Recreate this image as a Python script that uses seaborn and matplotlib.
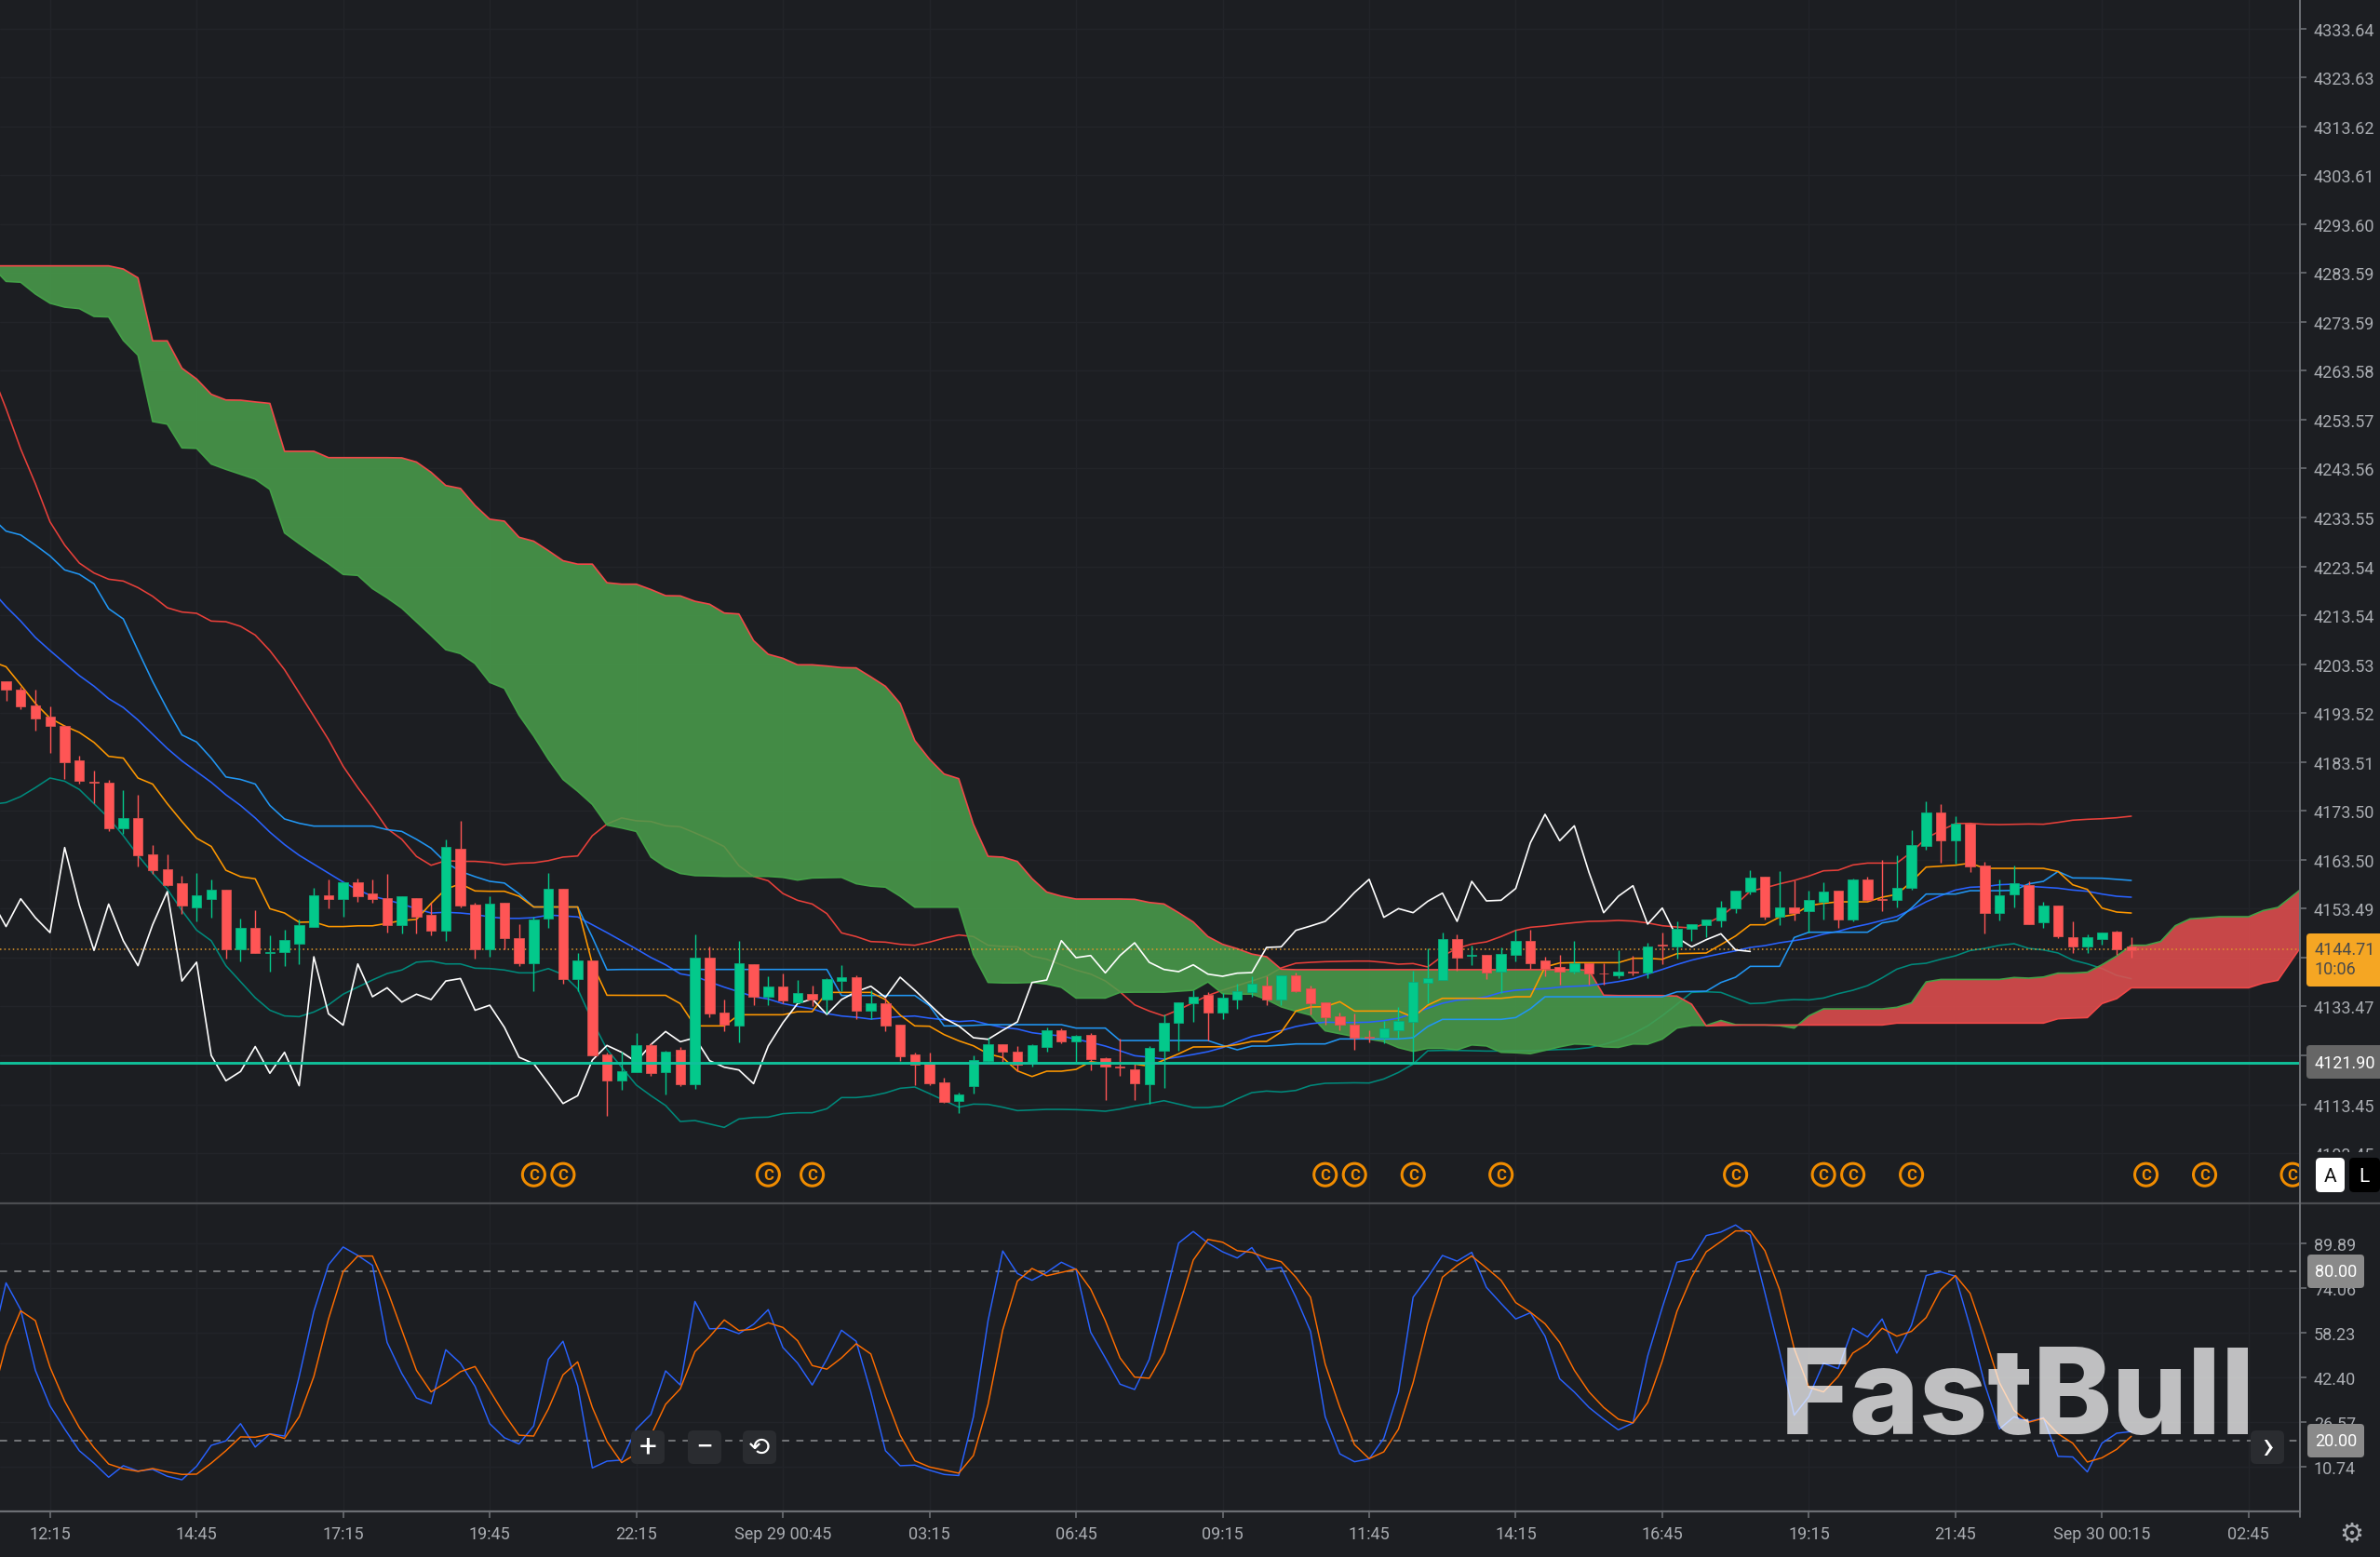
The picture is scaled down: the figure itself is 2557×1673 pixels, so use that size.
import numpy as np
import matplotlib
matplotlib.use("Agg")
import matplotlib.pyplot as plt
from matplotlib.patches import FancyBboxPatch, Rectangle
import seaborn as sns

# prices below are stored minus 4000, one row = 10 candles
BASE = 4000

opens = [
    200.1, 198.4, 195.0, 192.8, 190.9, 183.9, 179.5, 179.2, 169.9, 172.1,
    164.7, 161.5, 158.7, 153.8, 155.5, 157.3, 145.1, 149.5, 144.5, 144.7,
    146.4, 149.8, 156.3, 155.5, 158.9, 156.7, 155.7, 150.2, 155.7, 152.2,
    149.0, 165.8, 154.4, 145.2, 154.7, 147.5, 142.4, 151.4, 157.5, 139.0,
    142.9, 123.6, 118.4, 120.1, 125.5, 120.1, 124.7, 117.6, 143.5, 132.3,
    129.6, 142.1, 135.5, 137.5, 134.4, 136.1, 134.9, 138.7, 139.5, 132.7,
    134.1, 129.8, 123.6, 121.8, 118.0, 114.2, 117.2, 122.3, 125.8, 124.3,
    121.9, 125.2, 128.7, 126.3, 127.6, 122.9, 121.2, 120.7, 117.6, 124.4,
    130.1, 134.1, 135.8, 132.2, 134.9, 136.4, 137.8, 134.9, 139.8, 137.2,
    134.4, 131.5, 129.7, 127.3, 127.0, 128.7, 130.4, 138.4, 138.9, 147.2,
    143.9, 144.1, 140.7, 144.1, 146.9, 142.9, 141.5, 140.7, 142.4, 140.3,
    139.8, 140.7, 140.5, 146.1, 145.8, 149.3, 150.2, 151.0, 153.5, 157.0,
    160.1, 151.8, 153.8, 153.0, 154.9, 157.2, 151.3, 159.5, 155.5, 155.3,
    157.8, 166.4, 173.2, 167.5, 170.9, 162.4, 152.7, 156.4, 158.4, 150.7,
    154.1, 147.6, 145.8, 147.2, 148.8, 145.8,
]
closes = [
    198.4, 194.8, 192.5, 190.8, 183.5, 179.6, 179.3, 169.9, 172.1, 164.4,
    161.3, 158.4, 154.1, 156.2, 157.3, 145.1, 149.5, 144.5, 144.7, 147.0,
    150.1, 156.3, 155.4, 158.9, 156.1, 155.5, 150.2, 156.1, 151.9, 149.0,
    166.1, 154.1, 145.2, 154.6, 147.5, 142.4, 151.2, 157.5, 139.0, 142.9,
    123.4, 118.4, 120.3, 125.5, 119.8, 124.3, 117.6, 143.5, 132.0, 129.7,
    142.4, 135.5, 137.5, 134.7, 136.3, 134.9, 139.0, 139.5, 132.7, 134.1,
    129.6, 123.3, 121.6, 117.8, 113.9, 115.5, 122.6, 125.8, 124.2, 121.6,
    125.5, 128.7, 126.4, 127.5, 122.7, 121.2, 121.0, 117.8, 124.9, 130.1,
    134.4, 135.5, 132.2, 135.2, 136.7, 138.1, 134.9, 139.8, 136.7, 134.1,
    131.3, 129.8, 127.0, 127.1, 128.9, 130.6, 138.6, 139.3, 147.2, 143.5,
    144.1, 140.5, 144.3, 146.9, 142.4, 141.2, 140.6, 142.4, 140.2, 140.2,
    140.7, 140.5, 145.8, 145.9, 149.3, 150.4, 151.2, 153.8, 157.2, 159.8,
    151.8, 153.8, 152.7, 155.2, 156.9, 151.3, 159.5, 155.2, 155.3, 157.8,
    166.6, 173.2, 167.5, 170.9, 162.1, 152.7, 156.3, 158.7, 150.4, 154.1,
    147.9, 145.8, 147.6, 148.7, 145.2, 144.9,
]
highs = [
    200.1, 198.9, 198.3, 194.8, 191.0, 184.8, 181.7, 179.9, 177.7, 176.8,
    166.6, 164.6, 160.2, 160.8, 159.4, 157.3, 151.4, 153.1, 148.0, 149.1,
    151.3, 157.7, 159.4, 158.9, 159.7, 159.4, 160.6, 156.1, 155.7, 154.7,
    167.7, 171.5, 154.7, 156.0, 154.7, 150.3, 151.8, 160.8, 157.5, 144.5,
    142.9, 124.1, 124.2, 128.0, 125.9, 124.5, 125.2, 148.2, 145.7, 134.8,
    146.8, 142.1, 139.7, 140.3, 138.9, 137.7, 139.3, 141.9, 139.8, 136.8,
    135.3, 129.8, 124.0, 124.0, 118.8, 115.8, 123.4, 127.1, 125.8, 125.4,
    125.7, 129.1, 128.9, 127.7, 128.0, 123.1, 126.8, 122.2, 125.4, 131.9,
    134.4, 136.8, 136.5, 136.2, 138.2, 139.7, 139.7, 139.8, 140.5, 137.7,
    134.4, 132.2, 132.0, 128.7, 130.6, 133.3, 140.8, 145.4, 148.6, 148.2,
    146.0, 144.1, 145.5, 149.2, 149.2, 143.6, 144.0, 146.8, 142.4, 142.4,
    145.0, 143.9, 146.5, 148.7, 150.9, 150.4, 151.2, 155.1, 157.2, 161.4,
    160.1, 161.1, 159.2, 157.1, 158.8, 157.2, 159.7, 160.0, 163.5, 164.5,
    169.5, 175.4, 174.8, 172.5, 171.0, 163.1, 159.5, 162.3, 159.1, 154.9,
    154.1, 150.8, 148.2, 148.7, 149.0, 147.7,
]
lows = [
    196.1, 194.3, 189.9, 185.3, 180.1, 179.0, 175.0, 169.3, 168.8, 162.2,
    160.6, 158.2, 152.5, 150.9, 151.6, 143.3, 142.7, 144.4, 140.7, 141.8,
    142.2, 149.8, 153.5, 151.9, 154.8, 154.7, 148.7, 148.5, 148.5, 148.0,
    146.8, 153.8, 143.3, 143.6, 145.2, 141.8, 136.7, 149.5, 138.2, 136.7,
    123.4, 111.0, 116.5, 120.0, 119.3, 115.5, 117.2, 116.7, 131.3, 128.5,
    126.2, 133.8, 133.8, 134.2, 134.2, 133.6, 132.0, 136.7, 130.9, 130.9,
    128.5, 122.4, 117.3, 117.3, 113.7, 111.6, 115.6, 122.2, 121.7, 120.3,
    121.2, 124.2, 125.9, 122.2, 120.5, 114.4, 119.3, 114.4, 113.6, 116.8,
    124.4, 130.4, 126.5, 130.8, 133.0, 135.5, 133.8, 133.8, 136.5, 131.9,
    129.8, 128.7, 124.7, 126.2, 125.9, 126.9, 122.2, 134.1, 138.9, 140.8,
    141.9, 139.0, 136.2, 142.7, 141.1, 139.7, 137.9, 140.2, 137.9, 137.9,
    139.3, 139.8, 139.3, 142.2, 143.3, 146.9, 147.6, 149.8, 152.7, 156.5,
    151.3, 150.1, 151.0, 148.7, 151.3, 149.5, 150.8, 155.1, 153.0, 153.8,
    157.3, 165.6, 162.9, 162.7, 161.0, 148.4, 151.0, 153.8, 150.4, 149.5,
    147.5, 144.4, 144.4, 146.1, 144.1, 143.5,
]

# every line below starts one candle left of the first candle (index -1)
bb_upper = [
    263.46,
    255.84, 247.58, 240.47, 232.66, 227.9, 224.22, 222.19, 220.92, 220.54, 219.2,
    217.43, 215.08, 214.2, 213.94, 212.35, 212.22, 211.27, 209.49, 206.3, 202.4,
    197.65, 192.9, 188.1, 182.63, 178.26, 174.25, 169.88, 167.69, 164.19, 162.37,
    163.32, 163.17, 163.17, 162.95, 162.5, 162.8, 162.88, 163.32, 164.05, 164.27,
    168.42, 170.82, 172.06, 171.48, 171.33, 170.46, 170.24, 169.0, 167.69, 166.2,
    162.3, 160.07, 159.2, 156.6, 155.2, 154.45, 152.48, 148.54, 147.78, 146.76,
    146.64, 146.2, 146.0, 146.64, 147.46, 148.1, 147.78, 146.0, 145.75, 145.68,
    143.78, 143.14, 142.0, 140.92, 140.1, 138.7, 136.48, 133.81, 132.54, 131.53,
    132.8, 134.26, 135.72, 136.8, 137.75, 138.7, 139.65, 141.37, 142.32, 142.5,
    142.64, 142.7, 142.76, 142.76, 142.5, 142.13, 142.26, 141.56, 143.78, 145.37,
    146.25, 146.7, 147.78, 149.05, 149.68, 149.94, 150.32, 150.63, 150.89, 150.95,
    151.08, 150.95, 150.57, 150.0, 149.74, 149.55, 150.44, 151.9, 154.25, 157.1,
    157.74, 158.57, 159.27, 160.16, 161.24, 161.36, 162.44, 162.82, 162.82, 162.82,
    165.05, 167.9, 169.49, 170.89, 170.95, 170.76, 170.7, 170.76, 170.82, 170.77,
    171.15, 171.6, 171.78, 171.9, 172.1, 172.42,
]
bb_mid = [
    218.7,
    215.33, 212.35, 209.0, 206.32, 203.77, 201.2, 199.03, 196.48, 194.66, 192.11,
    189.19, 186.28, 183.73, 181.54, 179.35, 176.8, 174.61, 172.06, 169.15, 166.6,
    164.41, 162.59, 160.77, 158.94, 157.34, 156.03, 155.3, 154.43, 153.48, 152.6,
    152.75, 152.6, 152.31, 151.8, 151.51, 151.51, 151.65, 152.17, 152.02, 151.8,
    150.2, 148.59, 146.92, 145.24, 143.49, 142.0, 140.16, 139.65, 138.5, 137.43,
    136.48, 135.5, 135.0, 134.06, 133.49, 132.99, 132.03, 131.52, 131.27, 130.89,
    131.14, 131.4, 131.52, 131.08, 130.76, 130.38, 130.57, 129.81, 129.18, 128.86,
    128.1, 127.72, 127.46, 126.76, 126.13, 125.37, 124.41, 123.4, 123.08, 122.7,
    123.14, 123.65, 124.22, 125.05, 126.19, 127.34, 127.97, 128.54, 129.37, 129.94,
    130.26, 130.19, 130.19, 130.26, 130.57, 131.08, 132.03, 133.11, 134.13, 134.76,
    135.0, 135.46, 136.35, 136.8, 136.99, 137.11, 137.43, 137.6, 137.74, 138.13,
    138.57, 139.14, 140.09, 141.05, 142.06, 142.95, 143.65, 144.28, 144.85, 145.55,
    145.93, 146.51, 146.95, 147.46, 148.28, 148.86, 149.68, 150.32, 151.08, 151.9,
    153.3, 154.89, 156.16, 157.3, 157.87, 158.0, 158.39, 158.51, 158.07, 157.88,
    157.69, 157.3, 157.05, 156.48, 156.03, 155.84,
]
bb_lower = [
    174.83,
    175.2, 176.44, 178.26, 180.23, 179.57, 177.89, 174.98, 172.06, 168.42, 164.41,
    160.77, 157.49, 153.11, 149.1, 146.92, 141.82, 138.53, 135.26, 132.71, 131.54,
    131.39, 132.34, 133.8, 135.99, 137.44, 138.9, 140.21, 140.94, 142.54, 142.76,
    142.18, 142.18, 141.31, 141.23, 140.94, 140.36, 140.36, 141.23, 140.0, 137.08,
    130.52, 124.69, 121.04, 117.4, 115.21, 113.2, 109.94, 110.13, 109.43, 108.73,
    110.45, 110.76, 110.83, 111.53, 111.72, 111.72, 112.54, 114.83, 114.83, 115.14,
    115.78, 116.73, 116.99, 115.65, 114.26, 112.86, 113.49, 113.43, 112.86, 112.16,
    112.29, 112.41, 112.41, 112.35, 112.22, 112.03, 112.48, 113.11, 113.62, 114.19,
    113.49, 112.79, 112.79, 113.11, 114.57, 115.84, 116.16, 115.97, 116.29, 117.3,
    117.75, 117.81, 117.85, 117.81, 118.64, 119.97, 121.68, 124.41, 124.48, 124.48,
    124.41, 124.35, 124.35, 124.41, 124.41, 124.54, 124.67, 124.73, 125.05, 125.68,
    126.63, 127.9, 129.49, 131.59, 133.93, 136.35, 136.48, 136.35, 135.2, 134.06,
    134.19, 134.7, 134.89, 134.82, 135.2, 136.09, 136.79, 137.74, 139.33, 141.11,
    142.06, 142.32, 143.14, 143.84, 144.92, 145.36, 145.99, 146.32, 145.36, 145.05,
    144.42, 142.96, 142.2, 141.24, 139.85, 139.15,
]
base_line = [
    233.6,
    230.76, 229.98, 227.9, 225.68, 222.82, 221.93, 219.97, 214.89, 212.79, 206.32,
    200.0, 194.3, 189.05, 187.6, 184.3, 180.45, 179.94, 179.0, 174.6, 171.85,
    170.97, 170.39, 170.39, 170.39, 170.39, 170.39, 169.66, 169.3, 167.69, 165.87,
    162.95, 161.13, 160.04, 159.09, 158.73, 156.54, 153.84, 153.84, 153.84, 153.84,
    147.65, 140.98, 141.05, 141.05, 141.05, 141.05, 141.05, 141.05, 141.05, 141.05,
    141.05, 141.05, 141.05, 141.05, 141.05, 141.05, 141.05, 135.72, 135.72, 135.72,
    135.72, 135.72, 135.72, 133.62, 129.5, 129.5, 129.6, 129.75, 129.75, 129.75,
    129.75, 129.75, 129.75, 129.05, 129.05, 129.05, 126.5, 126.5, 126.5, 126.5,
    126.5, 126.5, 126.5, 125.5, 124.6, 125.37, 125.37, 125.56, 125.81, 125.81,
    125.81, 126.83, 126.83, 126.83, 126.83, 126.83, 127.08, 129.37, 130.83, 130.83,
    130.83, 130.83, 130.83, 131.2, 133.0, 135.46, 135.46, 135.46, 135.46, 135.46,
    135.46, 135.46, 135.46, 135.46, 136.47, 136.55, 136.6, 138.38, 139.46, 141.68,
    141.68, 141.68, 147.59, 148.67, 148.67, 148.67, 148.67, 148.67, 150.57, 151.08,
    153.62, 156.48, 156.48, 156.48, 157.17, 157.17, 157.17, 157.24, 158.57, 159.08,
    161.1, 159.78, 159.75, 159.72, 159.5, 159.27,
]
conv_line = [
    204.1,
    203.0, 199.3, 195.5, 192.47, 190.87, 189.56, 187.52, 184.67, 184.31, 180.23,
    178.99, 174.98, 171.33, 167.91, 166.23, 161.35, 160.04, 159.6, 153.48, 152.6,
    150.71, 150.78, 149.83, 149.83, 149.98, 149.98, 150.49, 151.07, 151.29, 154.57,
    157.49, 158.58, 157.12, 157.05, 157.05, 156.03, 153.84, 153.84, 153.84, 153.84,
    142.18, 135.77, 135.75, 135.75, 135.75, 135.75, 134.06, 129.5, 129.5, 129.5,
    131.78, 131.78, 131.78, 131.78, 132.41, 132.41, 136.35, 136.35, 136.35, 136.35,
    134.89, 131.72, 129.5, 129.43, 127.72, 126.45, 125.43, 123.78, 123.02, 120.29,
    119.14, 120.22, 120.22, 120.6, 122.19, 121.75, 121.75, 121.7, 121.24, 122.51,
    123.78, 125.18, 125.2, 125.24, 125.68, 126.32, 126.32, 128.22, 132.54, 133.37,
    133.43, 134.45, 132.54, 132.54, 132.54, 132.54, 131.27, 133.75, 135.14, 135.14,
    135.14, 135.14, 135.14, 135.46, 135.46, 141.56, 142.38, 142.44, 142.44, 142.44,
    142.44, 143.33, 143.33, 143.14, 144.28, 144.35, 144.41, 146.13, 147.9, 150.19,
    150.19, 151.78, 152.28, 154.13, 154.57, 154.89, 154.89, 154.89, 155.84, 156.41,
    159.0, 162.0, 162.2, 162.38, 162.82, 161.74, 161.74, 161.74, 161.74, 161.74,
    161.12, 158.38, 157.43, 153.62, 152.8, 152.6,
]
lag_line = [
    155.3,
    149.83, 155.52, 151.65, 148.59, 166.0, 154.21, 144.95, 154.43, 146.92, 141.82,
    150.2, 156.98, 138.68, 142.54, 123.45, 118.27, 120.17, 125.27, 119.8, 124.1,
    117.25, 143.64, 131.97, 129.65, 142.18, 135.47, 137.3, 134.38, 135.99, 134.89,
    138.68, 139.19, 132.7, 133.73, 129.21, 123.08, 121.77, 117.76, 113.61, 115.21,
    122.5, 125.5, 124.1, 122.13, 125.68, 128.35, 126.25, 127.08, 122.38, 121.05,
    120.48, 117.68, 125.37, 130.13, 134.06, 135.02, 131.84, 134.89, 136.48, 137.62,
    135.34, 139.46, 136.8, 133.94, 131.08, 129.5, 127.08, 126.76, 128.6, 130.32,
    138.38, 138.89, 146.95, 143.46, 143.9, 140.35, 143.9, 146.51, 142.51, 141.05,
    140.6, 142.0, 140.1, 139.65, 140.29, 140.41, 145.56, 145.68, 149.05, 149.94,
    150.89, 153.62, 156.8, 159.5, 151.72, 153.5, 152.67, 155.0, 156.67, 150.89,
    159.08, 155.08, 155.21, 157.62, 166.96, 172.8, 167.4, 170.45, 160.9, 152.66,
    156.03, 158.19, 150.32, 153.62, 147.59, 145.68, 147.14, 148.35, 145.05, 144.73,
]
# the two cloud edges run on past the last candle, up to index 157
span_b = [
    285.05,
    285.05, 285.05, 285.05, 285.05, 285.05, 285.05, 285.05, 285.05, 284.4, 282.6,
    269.7, 269.7, 264.1, 261.9, 258.76, 257.6, 257.55, 257.2, 256.9, 247.1,
    247.1, 247.1, 245.8, 245.8, 245.8, 245.8, 245.8, 245.75, 244.9, 242.8,
    240.1, 239.5, 236.0, 233.2, 232.8, 229.5, 228.7, 226.76, 224.7, 224.0,
    224.0, 220.2, 219.9, 219.9, 218.8, 217.55, 217.5, 216.4, 215.8, 214.0,
    213.8, 208.35, 205.56, 204.73, 203.4, 203.4, 203.15, 202.83, 202.77, 200.93,
    199.0, 195.5, 187.9, 184.1, 181.05, 180.1, 170.77, 164.2, 164.04, 163.15,
    159.65, 156.9, 156.04, 155.46, 155.46, 155.46, 155.46, 155.4, 154.76, 154.45,
    152.67, 150.76, 147.78, 146.2, 145.3, 144.2, 143.65, 141.1, 141.0, 141.0,
    141.0, 141.0, 141.0, 141.0, 141.0, 141.0, 141.0, 141.0, 141.0, 141.0,
    141.0, 141.0, 141.0, 141.0, 141.0, 141.0, 141.0, 141.0, 140.9, 135.78,
    135.7, 135.7, 135.7, 135.7, 135.6, 133.93, 129.5, 129.6, 129.65, 129.68,
    129.68, 129.68, 129.68, 129.68, 129.68, 129.68, 129.68, 129.68, 129.68, 130.07,
    130.07, 130.07, 130.07, 130.07, 130.07, 130.07, 130.07, 130.07, 130.07, 130.07,
    130.96, 131.1, 131.2, 134.07, 135.08, 137.3, 137.3, 137.3, 137.3, 137.3,
    137.3, 137.3, 137.3, 137.3, 138.26, 138.83, 143.2, 147.55,
]
span_a = [
    285.05,
    281.87, 281.7, 279.3, 277.4, 276.6, 276.3, 274.7, 274.6, 269.8, 266.76,
    253.2, 252.66, 247.8, 247.7, 244.5, 243.4, 242.4, 241.4, 239.3, 230.4,
    228.2, 226.1, 224.1, 221.9, 221.7, 219.0, 217.1, 215.0, 212.2, 209.4,
    206.5, 205.7, 203.65, 199.8, 198.6, 193.1, 188.83, 184.09, 179.94, 177.53,
    174.83, 170.6, 170.0, 169.3, 164.05, 162.0, 160.7, 160.26, 160.2, 160.1,
    160.1, 160.1, 160.1, 159.9, 159.34, 159.78, 159.85, 159.9, 158.6, 158.1,
    157.9, 156.04, 153.8, 153.8, 153.8, 153.8, 144.1, 138.4, 138.3, 138.3,
    138.4, 138.06, 137.4, 135.2, 135.2, 135.2, 136.35, 136.4, 136.4, 136.4,
    136.6, 136.8, 138.5, 136.1, 136.0, 136.0, 134.9, 133.4, 132.5, 131.7,
    128.5, 127.9, 127.3, 126.8, 126.3, 125.05, 124.3, 124.9, 124.9, 124.6,
    125.6, 125.4, 124.1, 124.0, 123.8, 124.5, 125.2, 125.8, 125.7, 125.2,
    125.1, 125.8, 125.75, 126.8, 129.05, 129.6, 129.6, 130.6, 129.75, 129.68,
    129.68, 129.55, 129.05, 131.55, 132.98, 132.98, 132.98, 132.98, 132.98, 133.3,
    134.2, 138.5, 139.0, 139.0, 139.0, 139.0, 139.0, 139.4, 139.27, 139.5,
    140.3, 140.3, 140.48, 142.0, 143.8, 146.0, 146.0, 146.77, 150.0, 151.4,
    151.6, 151.84, 151.84, 151.84, 153.1, 153.75, 156.1, 158.5,
]

stoch_k = [
    53.3,
    76.0, 66.5, 45.0, 32.4, 24.2, 16.5, 12.1, 7.1, 11.2, 9.3,
    9.9, 7.45, 6.2, 11.0, 18.4, 20.0, 26.1, 17.8, 22.5, 21.7,
    42.8, 65.9, 82.4, 88.7, 85.7, 82.2, 54.9, 43.9, 35.2, 33.2,
    52.3, 47.5, 39.3, 26.1, 21.1, 18.9, 25.3, 48.9, 55.3, 39.5,
    10.4, 12.8, 13.2, 24.2, 29.4, 44.8, 39.8, 69.4, 59.7, 59.9,
    58.0, 61.3, 66.5, 53.1, 47.6, 39.8, 48.9, 59.2, 55.3, 37.3,
    16.5, 11.2, 11.4, 9.6, 8.1, 7.7, 28.55, 62.6, 87.3, 79.3,
    76.9, 79.7, 83.3, 80.8, 58.5, 49.4, 40.1, 38.2, 48.9, 69.2,
    90.1, 94.2, 90.1, 87.0, 84.8, 88.5, 80.7, 81.5, 70.9, 58.8,
    28.55, 15.4, 12.6, 13.6, 20.9, 37.3, 70.9, 78.0, 85.7, 83.7,
    86.8, 74.4, 68.7, 63.2, 65.4, 57.1, 42.0, 37.3, 31.85, 27.7,
    23.9, 26.35, 50.0, 67.25, 83.3, 84.4, 92.75, 94.0, 96.5, 92.9,
    72.5, 51.6, 29.1, 35.7, 47.5, 45.6, 59.9, 56.8, 63.2, 51.1,
    61.0, 78.6, 79.9, 78.35, 60.4, 40.1, 24.2, 28.55, 26.9, 28.2,
    14.5, 14.3, 9.0, 19.2, 22.7, 23.3,
]
stoch_d = [
    34.0,
    53.8, 66.1, 62.6, 46.1, 34.05, 24.7, 17.6, 11.8, 10.1, 9.2,
    10.2, 9.0, 8.1, 8.2, 12.1, 16.5, 21.4, 21.3, 22.4, 20.85,
    28.55, 42.8, 63.2, 80.0, 85.5, 85.5, 73.6, 59.3, 45.0, 37.35,
    40.65, 44.5, 46.35, 37.9, 29.4, 22.0, 21.7, 31.3, 43.4, 48.0,
    31.85, 19.8, 12.3, 15.4, 22.0, 32.95, 38.45, 51.6, 56.9, 62.85,
    59.1, 59.55, 61.85, 60.2, 55.5, 46.7, 45.4, 49.4, 54.4, 50.8,
    35.7, 22.0, 12.95, 10.75, 9.65, 8.55, 14.8, 32.95, 59.3, 76.6,
    81.1, 78.5, 79.7, 80.9, 73.8, 62.6, 49.4, 42.6, 42.2, 51.1,
    67.0, 84.07, 91.4, 90.4, 87.4, 86.8, 84.8, 83.5, 78.0, 70.9,
    47.2, 31.85, 18.65, 13.7, 16.1, 24.15, 40.65, 61.5, 78.0, 82.2,
    85.5, 81.3, 76.9, 69.0, 65.6, 61.5, 54.9, 45.0, 37.35, 31.85,
    27.7, 26.35, 33.5, 48.3, 65.9, 78.0, 87.0, 90.65, 94.4, 94.4,
    87.4, 73.6, 52.7, 39.0, 37.35, 42.8, 51.1, 54.4, 59.9, 57.1,
    58.8, 63.7, 73.6, 78.6, 72.3, 57.1, 40.65, 30.75, 26.6, 28.0,
    22.5, 19.2, 12.5, 14.0, 17.0, 21.6,
]

price_ticks = [
    4333.64, 4323.63, 4313.62, 4303.61, 4293.60, 4283.59, 4273.59, 4263.58,
    4253.57, 4243.56, 4233.55, 4223.54, 4213.54, 4203.53, 4193.52, 4183.51,
    4173.50, 4163.50, 4153.49, 4143.48, 4133.47, 4123.46, 4113.45, 4103.45,
]
# these two sit fully behind the value boxes, only their tick marks show
hidden_price_labels = [4143.48, 4123.46]
stoch_ticks = [89.89, 74.06, 58.23, 42.40, 26.57, 10.74]
time_labels = [
    "12:15", "14:45", "17:15", "19:45", "22:15", "Sep 29 00:45", "03:15", "06:45",
    "09:15", "11:45", "14:15", "16:45", "19:15", "21:45", "Sep 30 00:15", "02:45",
]
event_idx = [36, 38, 52, 55, 90, 92, 96, 102, 118, 124, 126, 130, 146, 150, 156]
support_price = 4121.9
last_price_line = 4145.1

BG = "#1c1e22"
GRID = "#222429"
AXIS = "#6c6f74"
TXT = "#a9acb1"
UP = "#03c98b"
DOWN = "#ff5555"
W, H = 2557, 1674

sns.set_theme(style="dark", rc={"axes.facecolor": BG, "figure.facecolor": BG})
plt.rcParams["font.family"] = ["Roboto", "DejaVu Sans"]

fig = plt.figure(figsize=(W / 100, H / 100), dpi=100)
axis_x = 2470.7 / W
ax = fig.add_axes([0, 1 - 1294 / H, axis_x, 1294 / H])
ax2 = fig.add_axes([0, 1 - 1625 / H, axis_x, (1625 - 1294) / H])

# one candle is 15.747 px, first candle sits 6.5 px from the left edge
for a in (ax, ax2):
    a.set_xlim(-6.5 / 15.747, (2470.7 - 6.5) / 15.747)
ax.set_ylim(4093.18, 4339.65)
ax2.set_ylim(-5.0, 104.17)

candle_x = np.arange(len(opens))
line_x = np.arange(-1, len(bb_upper) - 1)
span_x = np.arange(-1, len(span_a) - 1)
assert len(opens) == len(closes) == len(highs) == len(lows) == 146
assert len(bb_upper) == len(bb_mid) == len(bb_lower) == len(base_line) == len(conv_line) == 147
assert len(span_a) == len(span_b) == 159 and len(stoch_k) == len(stoch_d) == 147


def price(vals):
    return np.array(vals) + BASE


def draw_line(axis, x, y, color, lw=1.15, z=3, alpha=1.0):
    sns.lineplot(x=x, y=y, color=color, linewidth=lw, ax=axis, zorder=z, alpha=alpha,
                 estimator=None, sort=False, legend=False)


# bollinger bands go under the cloud, everything else over it
draw_line(ax, line_x, price(bb_upper), "#e8403a", z=1.5)
draw_line(ax, line_x, price(bb_lower), "#00897b", z=1.5)

grid_x = np.arange(-1, 157.01, 0.25)
grid_a = np.interp(grid_x, span_x, price(span_a))
grid_b = np.interp(grid_x, span_x, price(span_b))
ax.fill_between(grid_x, grid_a, grid_b, where=grid_b >= grid_a, color="#4a9f4c", alpha=0.85,
                lw=0, zorder=2, interpolate=True)
ax.fill_between(grid_x, grid_a, grid_b, where=grid_b <= grid_a, color="#e64f4f", alpha=0.85,
                lw=0, zorder=2, interpolate=True)
draw_line(ax, span_x, price(span_a), "#43a047", lw=1.2, z=2.2)
draw_line(ax, span_x, price(span_b), "#f04848", lw=1.2, z=2.2)

draw_line(ax, line_x, price(bb_mid), "#2962ff")
draw_line(ax, line_x, price(base_line), "#2196f3")
draw_line(ax, line_x, price(conv_line), "#ff9800")
draw_line(ax, np.arange(-1, len(lag_line) - 1), price(lag_line), "#ffffff", lw=1.2, z=3.2)

# candles
o, c, h, l = price(opens), price(closes), price(highs), price(lows)
up = c >= o
ax.vlines(candle_x[up], l[up], h[up], color=UP, lw=1.0, zorder=4)
ax.vlines(candle_x[~up], l[~up], h[~up], color=DOWN, lw=1.0, zorder=4)
ax.bar(candle_x[up], (c - o)[up], bottom=o[up], width=0.66, color=UP, edgecolor="#0aa97c", lw=0.6, zorder=4.1)
ax.bar(candle_x[~up], (c - o)[~up], bottom=o[~up], width=0.66, color=DOWN, edgecolor="#d9534f", lw=0.6, zorder=4.1)

ax.axhline(support_price, color="#10c09a", lw=2.1, zorder=5)
ax.axhline(last_price_line, color="#e0982a", lw=1.1, ls=(0, (1, 2)), zorder=2.5)

# (c) event marks along the bottom of the price pane
mark_y = [4099.05] * len(event_idx)
sns.scatterplot(x=event_idx, y=mark_y, ax=ax, s=300, facecolor="none", edgecolor="#f08c00",
                linewidth=2.2, zorder=5, legend=False)
for i, y in zip(event_idx, mark_y):
    ax.text(i, y, "C", color="#f08c00", fontsize=12, fontweight="bold", ha="center",
            va="center", zorder=5, clip_on=True)

# stochastic pane
ax2.axhline(80, color="#8b8d90", lw=1.1, ls=(0, (5, 5)), zorder=1.5)
ax2.axhline(20, color="#8b8d90", lw=1.1, ls=(0, (5, 5)), zorder=1.5)
draw_line(ax2, line_x, np.array(stoch_k), "#2962ff", lw=1.05)
draw_line(ax2, line_x, np.array(stoch_d), "#ff6d00", lw=1.05, z=3.1)

tick_x = 3 + 10 * np.arange(len(time_labels))
for a in (ax, ax2):
    a.set_facecolor(BG)
    a.set_xlabel("")
    a.set_ylabel("")
    a.set_xticks(tick_x)
    a.grid(True, color=GRID, lw=1.0)
    a.set_axisbelow(True)
    a.yaxis.tick_right()
    a.tick_params(axis="y", length=5, width=1.2, color=AXIS, labelcolor=TXT, labelsize=13, pad=6, right=True)
    for s in ("top", "left", "bottom"):
        a.spines[s].set_visible(False)
    a.spines["right"].set_color(AXIS)
    a.spines["right"].set_linewidth(1.4)

ax.set_yticks(price_ticks)
ax.set_yticklabels(["" if t in hidden_price_labels else f"{t:.2f}" for t in price_ticks])
ax.tick_params(axis="x", length=0, labelbottom=False)
ax2.set_yticks(stoch_ticks)
ax2.set_yticklabels([f"{t:.2f}" for t in stoch_ticks])
ax2.set_xticklabels(time_labels)
ax2.tick_params(axis="x", length=5, width=1.2, color=AXIS, labelcolor=TXT, labelsize=13, pad=6, bottom=True)
ax2.spines["bottom"].set_visible(True)
ax2.spines["bottom"].set_color(AXIS)
ax2.spines["bottom"].set_linewidth(1.6)

# everything on top of the panes: value boxes, buttons, watermark (pixel layout)
top = fig.add_axes([0, 0, 1, 1], facecolor="none", zorder=10)
top.set_xlim(0, W)
top.set_ylim(H, 0)
top.axis("off")


def box(x0, y0, x1, y1, color, r=4, ec="none"):
    top.add_patch(FancyBboxPatch((x0 + r, y0 + r), x1 - x0 - 2 * r, y1 - y0 - 2 * r,
                                 boxstyle=f"round,pad={r},rounding_size={r}", fc=color, ec=ec, lw=0))


top.add_patch(Rectangle((2472, 1239), W - 2472, 54, fc=BG, ec="none"))
top.plot([0, W], [1294, 1294], color="#4b4d51", lw=1.6)
top.plot([2470.7, 2470.7], [0, 1631], color=AXIS, lw=1.4)

box(2478, 1004, W + 6, 1061, "#f5a623")
top.text(2487, 1021.5, "4144.71", color="#4a4a4a", fontsize=13, va="center")
top.text(2487, 1042, "10:06", color="#4a4a4a", fontsize=13, va="center")
box(2478, 1124, W + 6, 1160, "#666666")
top.text(2487, 1143, "4121.90", color="#ffffff", fontsize=13, va="center")
box(2479, 1349, 2540, 1385, "#8a8a8a")
top.text(2509.5, 1367.5, "80.00", color="#ffffff", fontsize=13, va="center", ha="center")
box(2479, 1531, 2540, 1567, "#8a8a8a")
top.text(2509.5, 1549.5, "20.00", color="#ffffff", fontsize=13, va="center", ha="center")

box(2488, 1245, 2519, 1282, "#ffffff", r=5)
top.text(2503.5, 1264, "A", color="#111111", fontsize=15, ha="center", va="center")
box(2524, 1245, W, 1282, "#000000", r=5)
top.text(2540, 1264, "L", color="#ffffff", fontsize=15, ha="center", va="center")

for bx, glyph, size in zip((696, 757, 816, 2436), ("+", "\u2212", "\u27f2", "\u203a"), (24, 24, 20, 30)):
    box(bx - 18, 1538, bx + 18, 1574, "#2a2c30", r=6)
    top.text(bx, 1556, glyph, color="#ffffff", fontsize=size, ha="center", va="center")
top.text(2526, 1648, "\u2699", color=TXT, fontsize=21, ha="center", va="center")

top.text(2168, 1541, "FastBull", color="#ffffff", alpha=0.72, fontsize=92, fontweight="heavy",
         ha="center", va="baseline", family=["Inter", "DejaVu Sans"], zorder=8)

fig.savefig("out.png", dpi=100, facecolor=BG)
